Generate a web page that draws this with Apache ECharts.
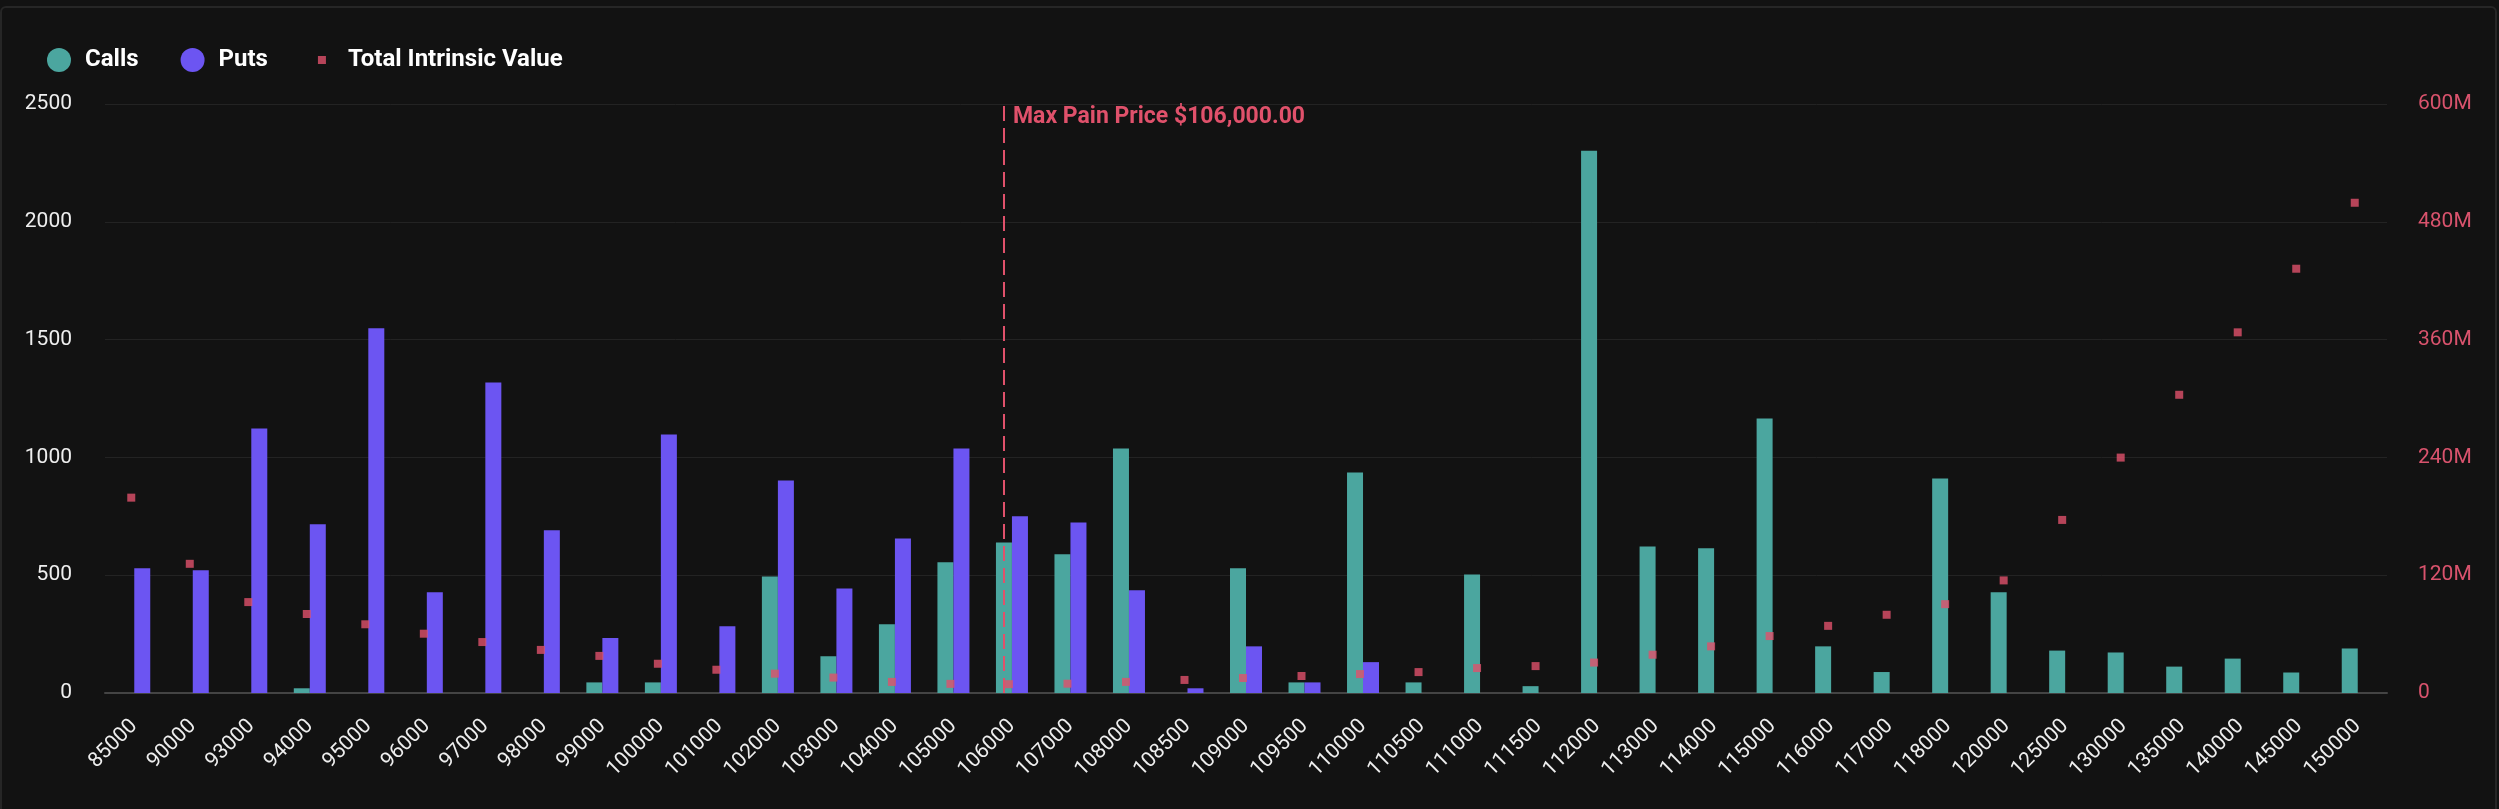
<!DOCTYPE html>
<html>
<head>
<meta charset="utf-8">
<script src="https://cdn.jsdelivr.net/npm/echarts@6/dist/echarts.min.js"></script>
<style>
  html, body { margin: 0; padding: 0; background: #121212; overflow: hidden; }
  #frame {
    position: absolute; left: 0; top: 6px; width: 2493px; height: 840px;
    border: 2px solid #262626; border-radius: 6px; pointer-events: none;
  }
  #chart { position: absolute; left: 0; top: 0; width: 2499px; height: 809px; }
</style>
</head>
<body>
<div id="chart"></div>
<div id="frame"></div>
<script>
// strikes on the x axis
const strikes = [
  "85000", "90000", "93000", "94000", "95000", "96000", "97000", "98000", "99000",
  "100000", "101000", "102000", "103000", "104000", "105000", "106000", "107000",
  "108000", "108500", "109000", "109500", "110000", "110500", "111000", "111500",
  "112000", "113000", "114000", "115000", "116000", "117000", "118000", "120000",
  "125000", "130000", "135000", "140000", "145000", "150000"
];
// open interest, calls
const calls = [
  0, 0, 0, 20, 0, 0, 0, 0, 45,
  45, 0, 495, 156, 292, 555, 639, 589,
  1038, 0, 530, 45, 936, 45, 503, 29,
  2302, 622, 614, 1165, 198, 89, 910, 428,
  180, 172, 112, 146, 87, 189
];
// open interest, puts
const puts = [
  530, 521, 1123, 716, 1548, 428, 1318, 691, 233,
  1097, 283, 902, 444, 656, 1038, 750, 724,
  436, 20, 198, 45, 131, 0, 0, 0,
  0, 0, 0, 0, 0, 0, 0, 0,
  0, 0, 0, 0, 0, 0
];
// total intrinsic value, USD
const intrinsic = [
  199e6, 131.6e6, 92.6e6, 80.5e6, 70e6, 60.4e6, 51.9e6, 43.9e6, 37.8e6,
  29.8e6, 23.7e6, 19.7e6, 15.7e6, 11.3e6, 9.3e6, 9.0e6, 9.5e6,
  11.3e6, 13.3e6, 15.3e6, 17.3e6, 19.3e6, 21.3e6, 25.4e6, 27.4e6,
  31e6, 39e6, 47.5e6, 58e6, 68.4e6, 79.7e6, 90.5e6, 114.7e6,
  176.3e6, 239.8e6, 303.8e6, 367.4e6, 432.2e6, 499.4e6
];
const maxPain = "106000";

const font = "Roboto";
const red = "#e0516b";

let myChart = echarts.init(document.getElementById("chart"));
myChart.setOption({
  backgroundColor: "#121212",
  animation: false,
  textStyle: { fontFamily: font },
  legend: {
    left: 42,
    top: 43,
    itemWidth: 24,
    itemHeight: 24,
    itemGap: 42,
    textStyle: { color: "#ffffff", fontSize: 24, fontWeight: "bold", fontFamily: font, padding: [0, 0, 0, 9] },
    data: [
      { name: "Calls", icon: "circle" },
      { name: "Puts", icon: "circle" },
      { name: "Total Intrinsic Value", icon: "path://M0,0M24,24M8,8h8v8h-8z" }
    ]
  },
  grid: { left: 105, right: 112, top: 104, bottom: 116 },
  xAxis: {
    type: "category",
    data: strikes,
    axisTick: { show: false },
    axisLine: { lineStyle: { color: "#444444", width: 2 } },
    axisLabel: { interval: 0, rotate: 45, color: "#eeeeee", fontSize: 21, margin: 30, fontFamily: font }
  },
  yAxis: [
    {
      type: "value",
      min: 0,
      max: 2500,
      interval: 500,
      axisLabel: { color: "#eeeeee", fontSize: 21, margin: 33, fontFamily: font, formatter: v => String(v) },
      splitLine: { lineStyle: { color: "#232323", width: 1 } }
    },
    {
      type: "value",
      min: 0,
      max: 600e6,
      interval: 120e6,
      position: "right",
      axisLabel: {
        color: "#d9536d",
        fontSize: 21,
        margin: 31,
        fontFamily: font,
        formatter: v => (v === 0 ? "0" : v / 1e6 + "M")
      },
      splitLine: { show: false }
    }
  ],
  series: [
    {
      name: "Calls",
      type: "bar",
      data: calls,
      barWidth: 16,
      barGap: "0%",
      itemStyle: { color: "#4ba69f" },
      markLine: {
        silent: true,
        symbol: "none",
        lineStyle: { color: red, type: [15, 7], width: 2 },
        label: {
          position: "end",
          distance: 0,
          align: "left",
          verticalAlign: "top",
          padding: [2, 0, 0, 9],
          color: red,
          fontSize: 23,
          fontWeight: "bold",
          fontFamily: font,
          formatter: "Max Pain Price $106,000.00"
        },
        data: [{ xAxis: maxPain }]
      }
    },
    {
      name: "Puts",
      type: "bar",
      data: puts,
      barWidth: 16,
      barGap: "0%",
      itemStyle: { color: "#6c55f2" }
    },
    {
      name: "Total Intrinsic Value",
      type: "scatter",
      yAxisIndex: 1,
      data: intrinsic,
      symbol: "rect",
      symbolSize: 8,
      symbolOffset: [-3, 0],
      itemStyle: { color: red },
      z: 5
    }
  ]
});
</script>
</body>
</html>
